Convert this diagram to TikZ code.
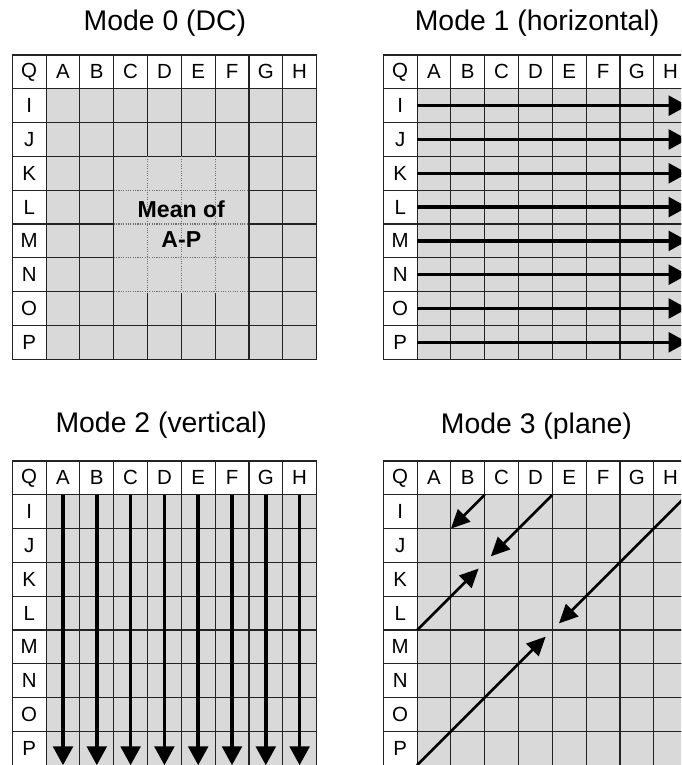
\documentclass[tikz,border=0pt]{standalone}
\usepackage{fontspec}
\setmainfont{Liberation Sans}
\usetikzlibrary{arrows.meta}
\definecolor{cellgray}{RGB}{217,217,217}
\definecolor{gridline}{RGB}{35,35,35}
\definecolor{dotline}{RGB}{110,110,110}

\begin{document}
\begin{tikzpicture}[
    x=0.9cm, y=-0.9cm,
    cell/.style={rectangle, draw=gridline, line width=0.9pt, fill=cellgray, minimum size=0.9cm, inner sep=0pt, outer sep=0pt},
    head/.style={cell, fill=white, font=\fontsize{15.5}{17}\selectfont},
    title/.style={anchor=base, font=\fontsize{21.5}{26}\selectfont},
    flow/.style={-{Triangle[length=0.5cm, width=0.52cm]}, line width=2.6pt},
    diag/.style={-{Triangle[length=0.5cm, width=0.46cm]}, line width=2pt}
  ]
  \useasboundingbox (0,0) rectangle (20.148,22.633);
  \clip (0,0) rectangle (20.148,22.633);

  % titles
  \node[title] (t0) at (4.88,0.888) {Mode 0 (DC)};
  \node[title] (t1) at (15.89,0.908) {Mode 1 (horizontal)};
  \node[title] (t2) at (4.77,12.80) {Mode 2 (vertical)};
  \node[title] (t3) at (15.87,12.84) {Mode 3 (plane)};

  % the four 9x9 grids
  \foreach \m/\ox/\oy in {0/0.364/1.627, 1/11.34/1.627, 2/0.364/13.64, 3/11.34/13.64} {
    \begin{scope}[shift={(\ox,\oy)}]
      \node[head] (g\m-Q) at (0.5,0.5) {Q};
      \foreach \c [count=\i] in {A,...,H}
        \node[head] (g\m-\c) at (\i+0.5,0.5) {\c};
      \foreach \r [count=\j] in {I,...,P} {
        \node[head] (g\m-\r) at (0.5,\j+0.5) {\r};
        \foreach \c [count=\i] in {A,...,H}
          \node[cell] (g\m-\c\r) at (\i+0.5,\j+0.5) {};
      }
    \end{scope}
  }

  % mode 0: dotted block C-F / K-N
  \begin{scope}[shift={(0.364,1.627)}]
    \fill[cellgray] (3.025,3.025) rectangle (6.975,7.03);
    \foreach \k in {4,5,6}
      \draw[dotline, densely dotted, line width=0.8pt] (\k,3) -- (\k,7);
    \foreach \k in {4,5,6,7}
      \draw[dotline, densely dotted, line width=0.8pt] (3,\k) -- (7,\k);
    \node[align=center, font=\fontsize{17.5}{22.7}\selectfont\bfseries] (mean) at (5,5) {Mean of\\A-P};
  \end{scope}

  % mode 1
  \foreach \r in {I,...,P}
    \draw[flow] (g1-A\r.west) -- (g1-H\r.east);

  % mode 2
  \foreach \c in {A,...,H}
    \draw[flow] (g2-\c I.north) -- (g2-\c P.south);

  % mode 3
  \draw[diag] (g3-BI.north east) -- (g3-BI.south west);
  \draw[diag, shorten >=0.23cm] (g3-DI.north east) -- (g3-CK.north west);
  \draw[diag, shorten >=0.23cm] (g3-AM.north west) -- (g3-CK.north west);
  \draw[diag, shorten >=0.25cm] (g3-HI.north east) -- (g3-EM.north west);
  \draw[diag, shorten >=0.25cm] (g3-AP.south west) -- (g3-EM.north west);
\end{tikzpicture}
\end{document}
